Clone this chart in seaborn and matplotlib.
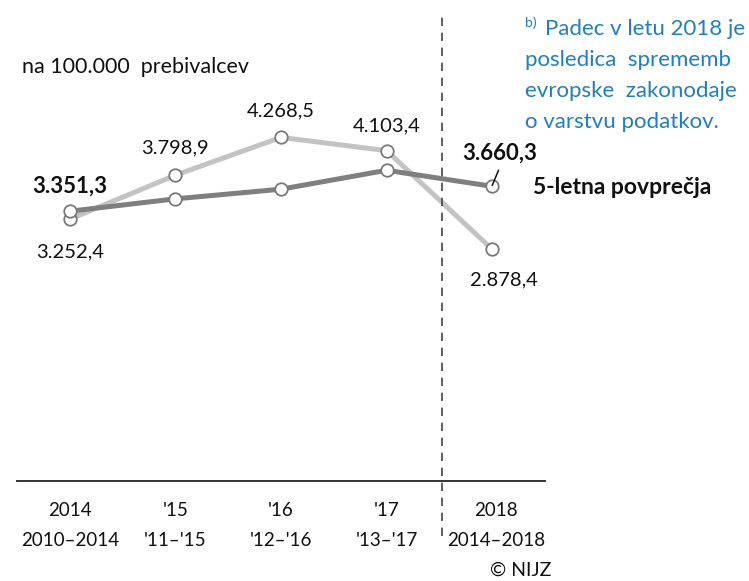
import numpy as np
import pandas as pd
import matplotlib
matplotlib.use("Agg")
import matplotlib.pyplot as plt
import matplotlib.transforms as mtrans
import seaborn as sns

# --- podatki ---
years = ["2014", "'15", "'16", "'17", "2018"]
periods = ["2010–2014", "'11–'15", "'12–'16", "'13–'17", "2014–2018"]
annual = [3252.4, 3798.9, 4268.5, 4103.4, 2878.4]
avg5 = [3351.3, 3505.0, 3625.0, 3860.0, 3660.3]

def sl(v):
    # slovenski zapis: 3.252,4
    return f"{v:,.1f}".replace(",", "X").replace(".", ",").replace("X", ".")

sns.set_theme(style="white")
plt.rcParams["font.family"] = ["Lato", "DejaVu Sans"]

df = pd.DataFrame({
    "idx": list(range(len(years))) * 2,
    "value": annual + avg5,
    "series": ["letno"] * len(years) + ["povp"] * len(years),
})

fig = plt.figure(figsize=(7.49, 5.81), dpi=100)
ax = fig.add_axes([17 / 749, 1 - 481 / 581, 528 / 749, 481 / 581])

sns.lineplot(data=df[df.series == "letno"], x="idx", y="value", ax=ax,
             color="#c3c3c3", linewidth=3.6, marker="o", markersize=9,
             markerfacecolor="white", markeredgecolor="#7a7a7a",
             markeredgewidth=1.3, zorder=2)
sns.lineplot(data=df[df.series == "povp"], x="idx", y="value", ax=ax,
             color="#7f7f7f", linewidth=3.6, marker="o", markersize=9,
             markerfacecolor="white", markeredgecolor="#7a7a7a",
             markeredgewidth=1.3, zorder=3)

ax.set_xlim(-0.5, 4.5)
ax.set_ylim(0, 481 / 0.0805)
ax.set_yticks([])
ax.set_xlabel("")
ax.set_ylabel("")
for s in ["top", "left", "right"]:
    ax.spines[s].set_visible(False)
ax.spines["bottom"].set_color("#333333")
ax.spines["bottom"].set_linewidth(1.4)

ax.set_xticks(range(len(years)))
ax.set_xticklabels([f"{a}\n{b}" for a, b in zip(years, periods)],
                   fontsize=13.5, linespacing=1.95, color="#111111")
ax.tick_params(axis="x", length=0, pad=15)
# zadnjo oznako malo desno, da ne sece crtkane crte
last = ax.get_xticklabels()[-1]
last.set_transform(last.get_transform() + mtrans.ScaledTranslation(4 / 100, 0, fig.dpi_scale_trans))

# vrednosti ob tockah
offs_a = [(0, -33), (0, 27), (0, 27), (0, 25), (12, -31)]
for i, (v, (dx, dy)) in enumerate(zip(annual, offs_a)):
    ax.annotate(sl(v), (i, v), xytext=(dx, dy), textcoords="offset pixels",
                ha="center", va="center", fontsize=14.5, color="#111111")

ax.annotate(sl(avg5[0]), (0, avg5[0]), xytext=(0, 25), textcoords="offset pixels",
            ha="center", va="center", fontsize=16, fontweight="bold", color="#111111")
ax.annotate(sl(avg5[-1]), (4, avg5[-1]), xytext=(7, 33), textcoords="offset pixels",
            ha="center", va="center", fontsize=16, fontweight="bold", color="#111111")
ax.plot([4.0, 4.06], [avg5[-1] + 10, avg5[-1] + 200], color="#111111", lw=1.1, zorder=4)

# crtkana navpicna crta
ax.plot([3.52, 3.52], [-0.114, 0.975], transform=ax.get_xaxis_transform(),
        clip_on=False, color="#444444", lw=1.2, ls=(0, (5, 4)))

fig.text(22 / 749, 1 - 67 / 581, "na 100.000  prebivalcev", fontsize=15.5,
         va="center", ha="left", color="#111111")
fig.text(533 / 749, 1 - 187 / 581, "5-letna povprečja", fontsize=16.5,
         fontweight="bold", va="center", ha="left", color="#111111")

blue = "#1f7fc0"
fig.text(525 / 749, 1 - 23 / 581, "b)", fontsize=10, color=blue, va="center")
note = ["Padec v letu 2018 je", "posledica  sprememb", "evropske  zakonodaje",
        "o varstvu podatkov."]
xs = [545, 525, 525, 525]
for k, (t, x0) in enumerate(zip(note, xs)):
    fig.text(x0 / 749, 1 - (29 + 31 * k) / 581, t, fontsize=16, color=blue,
             va="center", ha="left")

fig.text(521 / 749, 1 - 570 / 581, "© NIJZ", fontsize=14, color="#111111",
         va="center", ha="center")

fig.savefig("out.png", dpi=100)
